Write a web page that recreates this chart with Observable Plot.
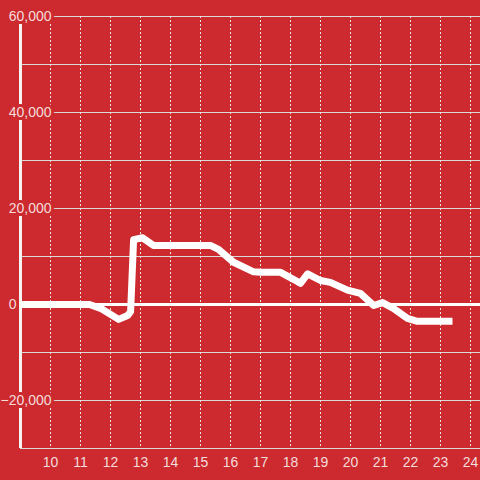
<!DOCTYPE html>
<html>
<head>
<meta charset="utf-8">
<script src="https://cdn.jsdelivr.net/npm/d3@7"></script>
<script src="https://cdn.jsdelivr.net/npm/@observablehq/plot@0.6"></script>
<style>
  html, body { margin: 0; padding: 0; background: #cd2a2f; }
</style>
</head>
<body>
<div id="chart"></div>
<script>
// Time of day (hours) and value
const hours  = [9, 11.3, 11.67, 12.27, 12.57, 12.67, 12.77, 13.07, 13.43, 15.33, 15.6, 16.1, 16.77, 17.0, 17.67, 18.23, 18.33, 18.57, 19.0, 19.33, 19.9, 20.33, 20.77, 21.07, 21.43, 21.9, 22.23, 23.4];
const values = [0, 0, -800, -3100, -2300, -1500, 13500, 13900, 12300, 12300, 11500, 8800, 6800, 6700, 6700, 4800, 4400, 6400, 5000, 4600, 3000, 2300, -200, 400, -800, -2900, -3500, -3500];
const yTicks = [60000, 40000, 20000, -20000];
const yZero = [0];
const yGrid = [-30000, -20000, -10000, 10000, 20000, 30000, 40000, 50000, 60000];
const xTicks = [10, 11, 12, 13, 14, 15, 16, 17, 18, 19, 20, 21, 22, 23, 24];

const data = hours.map((h, i) => ({h, v: values[i]}));
const bg = "#cd2a2f";
const txt = "#f3dcdc";
const fmt = d3.format(",");

const chart = Plot.plot({
  width: 480,
  height: 480,
  marginLeft: 20,
  marginRight: 0,
  marginTop: 16,
  marginBottom: 32,
  style: {background: bg, fontFamily: "Liberation Sans, Arial, sans-serif"},
  x: {domain: [9, 9 + 460 / 30], axis: null},
  y: {domain: [-30000, 60000], axis: null},
  marks: [
    Plot.ruleY(yGrid, {stroke: "#d9d9d9", strokeWidth: 1}),
    Plot.ruleX(xTicks, {stroke: "#e6e6e6", strokeWidth: 1, strokeDasharray: "2,2"}),
    Plot.ruleY([0], {stroke: "white", strokeWidth: 3}),
    Plot.ruleX([9], {stroke: "#f4f4f4", strokeWidth: 3}),
    Plot.line(data, {x: "h", y: "v", stroke: "white", strokeWidth: 7, strokeLinejoin: "round", strokeLinecap: "butt"}),
    Plot.text(yTicks, {x: 9, y: d => d, text: d => fmt(d), textAnchor: "end", dx: 31, fill: txt, stroke: bg, strokeWidth: 6, fontSize: 14}),
    Plot.text(yZero, {x: 9, y: d => d, text: d => fmt(d), textAnchor: "end", dx: -4, fill: txt, fontSize: 14}),
    Plot.text(xTicks, {x: d => d, y: -30000, text: d => String(d), dy: 14, fill: txt, fontSize: 14})
  ]
});
document.getElementById("chart").appendChild(chart);
</script>
</body>
</html>
